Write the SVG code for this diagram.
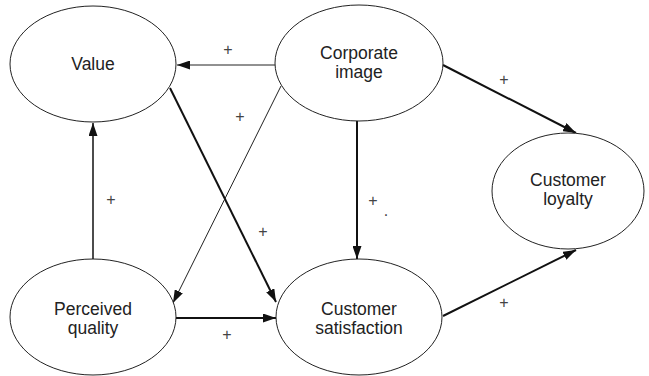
<svg xmlns="http://www.w3.org/2000/svg" width="649" height="376" viewBox="0 0 649 376">
<style>
.node ellipse{fill:#fff;stroke:#222;stroke-width:1}
.node text{font-family:"Liberation Sans",Arial,sans-serif;font-size:17.5px;fill:#222;text-anchor:middle}
.lbl{font-family:"Liberation Sans",Arial,sans-serif;font-size:16px;fill:#444;text-anchor:middle}
.thin{stroke:#222;stroke-width:1;fill:none;marker-end:url(#ah)}
.mid{stroke:#111;stroke-width:1.5;fill:none;marker-end:url(#ah)}
.thick{stroke:#111;stroke-width:2;fill:none;marker-end:url(#ah)}
</style>
<defs>
<marker id="ah" markerUnits="userSpaceOnUse" markerWidth="13" markerHeight="9" refX="13" refY="4.5" orient="auto">
<path d="M0,0 L13,4.5 L0,9 z" fill="#111"/>
</marker>
</defs>
<rect width="649" height="376" fill="#fff"/>
<g id="connectors">
<line class="thin" x1="275" y1="65" x2="177" y2="65"/>
<line class="thick" x1="170" y1="88" x2="276" y2="302"/>
<line class="thin" x1="281" y1="86" x2="173" y2="303"/>
<line class="mid" x1="93" y1="259" x2="93" y2="123"/>
<line class="thick" x1="176" y1="318" x2="276" y2="318"/>
<line class="thick" x1="357" y1="121" x2="357" y2="259"/>
<line class="thick" x1="443" y1="65" x2="576" y2="133"/>
<line class="thick" x1="443" y1="316" x2="576" y2="250"/>
<text class="lbl" x="228" y="55">+</text>
<text class="lbl" x="240" y="122">+</text>
<text class="lbl" x="111" y="205">+</text>
<text class="lbl" x="263" y="237">+</text>
<text class="lbl" x="227" y="340">+</text>
<text class="lbl" x="373" y="206">+</text>
<text class="lbl" x="386" y="216">.</text>
<text class="lbl" x="504" y="85">+</text>
<text class="lbl" x="504" y="308">+</text>
</g>
<g id="value" class="node">
<ellipse cx="93" cy="64" rx="83" ry="58"/>
<text x="93" y="70">Value</text>
</g>
<g id="corporate-image" class="node">
<ellipse cx="359" cy="63" rx="84" ry="58"/>
<text x="359" y="59">Corporate</text>
<text x="359" y="78">image</text>
</g>
<g id="customer-loyalty" class="node">
<ellipse cx="568" cy="191" rx="76" ry="58"/>
<text x="568" y="186">Customer</text>
<text x="568" y="205">loyalty</text>
</g>
<g id="perceived-quality" class="node">
<ellipse cx="93" cy="317" rx="83" ry="58"/>
<text x="93" y="315">Perceived</text>
<text x="93" y="334">quality</text>
</g>
<g id="customer-satisfaction" class="node">
<ellipse cx="359" cy="317" rx="83" ry="58"/>
<text x="359" y="315">Customer</text>
<text x="359" y="334">satisfaction</text>
</g>
</svg>
